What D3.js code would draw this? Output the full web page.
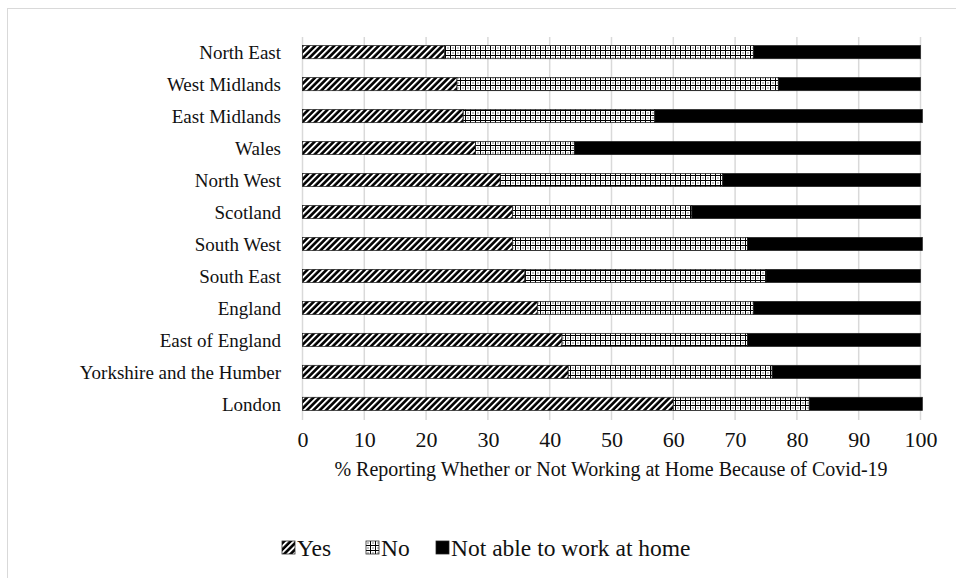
<!DOCTYPE html>
<html><head><meta charset="utf-8">
<script src="https://cdn.jsdelivr.net/npm/d3@7"></script>
<style>body{margin:0;background:#fff}svg{display:block}</style>
</head><body>
<svg id="c" width="956" height="578"></svg>
<script>
const categories = ["North East","West Midlands","East Midlands","Wales","North West","Scotland","South West","South East","England","East of England","Yorkshire and the Humber","London"];
const yesValues = [23,25,26,28,32,34,34,36,38,42,43,60];
const noValues  = [50,52,31,16,36,29,38,39,35,30,33,22];
const notAbleValues = [27,23,43.3,56,32,37,28.3,25,27,28,24,18.3];
const seriesNames = ["Yes","No","Not able to work at home"];
const xTicks = [0,10,20,30,40,50,60,70,80,90,100];
const xTitle = "% Reporting Whether or Not Working at Home Because of Covid-19";

const svg = d3.select("#c");
const font = "'Liberation Serif','Times New Roman',serif";
const defs = svg.append("defs");
// Yes: black with white diagonal stripes "/"
const p1 = defs.append("pattern").attr("id","pYes").attr("patternUnits","userSpaceOnUse")
  .attr("width",4.5).attr("height",4.5).attr("patternTransform","rotate(-45)");
p1.append("rect").attr("width",4.5).attr("height",4.5).attr("fill","#000");
p1.append("rect").attr("x",0).attr("y",0).attr("width",4.5).attr("height",1.9).attr("fill","#fff");
// No: white with black grid and dots
const p2 = defs.append("pattern").attr("id","pNo").attr("patternUnits","userSpaceOnUse")
  .attr("width",5).attr("height",5);
p2.append("rect").attr("width",5).attr("height",5).attr("fill","#fff");
p2.append("rect").attr("x",0).attr("y",0).attr("width",5).attr("height",1).attr("fill","#000");
p2.append("rect").attr("x",0).attr("y",0).attr("width",1).attr("height",5).attr("fill","#000");
p2.append("rect").attr("x",2.5).attr("y",2.5).attr("width",1).attr("height",1).attr("fill","#000");
const fills = ["url(#pYes)","url(#pNo)","#000"];

// frame
svg.append("rect").attr("x",7.5).attr("y",8.5).attr("width",960).attr("height",600)
  .attr("fill","none").attr("stroke","#d9d9d9").attr("stroke-width",1);

const x = d3.scaleLinear().domain([0,100]).range([302.5,920.5]);
const y = d3.scaleBand().domain(categories).range([36,420]).paddingInner(0.59).paddingOuter(0.3);

// gridlines
svg.append("g").selectAll("line").data(xTicks).join("line")
  .attr("x1",d=>x(d)).attr("x2",d=>x(d)).attr("y1",37).attr("y2",420)
  .attr("stroke","#d9d9d9").attr("stroke-width",1.5);

const stack = categories.map((c,i)=>({c, v:[yesValues[i],noValues[i],notAbleValues[i]]}));
const g = svg.append("g");
stack.forEach(d=>{
  let acc = 0;
  d.v.forEach((v,k)=>{
    g.append("rect").attr("x",x(acc)).attr("y",y(d.c)).attr("width",x(acc+v)-x(acc))
      .attr("height",y.bandwidth()).attr("fill",fills[k]).attr("stroke","#222").attr("stroke-width",0.75);
    acc += v;
  });
});

// category labels
svg.append("g").selectAll("text").data(categories).join("text")
  .attr("x",281).attr("y",d=>y(d)+y.bandwidth()/2).attr("dy","0.35em")
  .attr("text-anchor","end").attr("font-family",font).attr("font-size",19).attr("fill","#111").text(d=>d);

// x axis ticks
const xa = d3.axisBottom(x).tickValues(xTicks).tickSize(0).tickPadding(0);
const ag = svg.append("g").attr("transform","translate(0,431)").call(xa);
ag.select(".domain").remove();
ag.selectAll("text").attr("font-family",font).attr("font-size",22).attr("fill","#111").attr("dy","0.71em");

svg.append("text").attr("x",611).attr("y",476).attr("text-anchor","middle")
  .attr("font-family",font).attr("font-size",20).attr("fill","#111").text(xTitle);

// legend
const leg = svg.append("g").attr("font-family",font).attr("font-size",23.5).attr("fill","#111");
const legX = [282, 366, 436];
seriesNames.forEach((n,k)=>{
  leg.append("rect").attr("x",legX[k]).attr("y",541).attr("width",13).attr("height",13)
    .attr("fill",fills[k]).attr("stroke","#222").attr("stroke-width",0.75);
  leg.append("text").attr("x",legX[k]+15).attr("y",556).text(n);
});
</script>
</body></html>
